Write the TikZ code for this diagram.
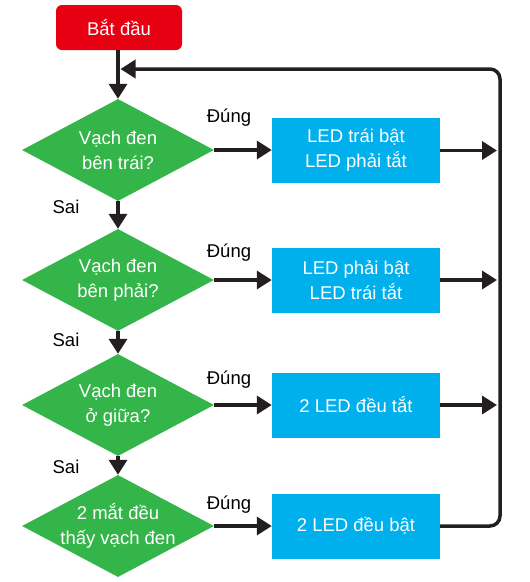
\documentclass[tikz,border=0pt]{standalone}
\usepackage{fontspec}
\setmainfont{Liberation Sans}
\usetikzlibrary{shapes.geometric,arrows.meta}
\definecolor{cred}{RGB}{230,0,18}
\definecolor{cgreen}{RGB}{52,181,74}
\definecolor{ccyan}{RGB}{0,176,236}
\definecolor{cdark}{RGB}{35,31,32}
\begin{document}
\begin{tikzpicture}[x=1pt,y=-1pt,
  every node/.style={font=\fontsize{18.5}{25}\selectfont},
  startbox/.style={rectangle,rounded corners=6pt,fill=cred,text=white,minimum width=126pt,minimum height=45pt,inner sep=0pt},
  dia/.style={diamond,fill=cgreen,minimum width=192pt,minimum height=102pt,inner sep=0pt},
  dtext/.style={text=white,align=center,inner sep=0pt},
  actbox/.style={rectangle,fill=ccyan,text=white,align=center,minimum width=168pt,minimum height=65pt,inner sep=0pt},
  lbl/.style={text=black,inner sep=0pt},
  conn/.style={draw=cdark,line width=3.5pt,-{Triangle[length=15pt,width=18pt]}},
  plain/.style={draw=cdark,line width=3.5pt}]
\useasboundingbox (0,0) rectangle (530,582);

\node[startbox] (start) at (119,27.5) {Bắt đầu};

\node[dia] (d1) at (118,150) {};
\node[dtext] (t1) at (d1) {Vạch đen\\bên trái?};
\node[dia] (d2) at (118,280) {};
\node[dtext] (t2) at (d2) {Vạch đen\\bên phải?};
\node[dia] (d3) at (118,405) {};
\node[dtext] (t3) at (d3) {Vạch đen\\ở giữa?};
\node[dia] (d4) at (118,526) {};
\node[dtext] (t4) at (d4) {2 mắt đều\\thấy vạch đen};

\node[actbox] (b1) at (356,150.5) {LED trái bật\\LED phải tắt};
\node[actbox] (b2) at (356,280) {LED phải bật\\LED trái tắt};
\node[actbox] (b3) at (356,405) {2 LED đều tắt};
\node[actbox] (b4) at (356,526) {2 LED đều bật};

\node[lbl] (y1) at (229,118) {Đúng};
\node[lbl] (y2) at (229,253) {Đúng};
\node[lbl] (y3) at (229,380) {Đúng};
\node[lbl] (y4) at (229,505) {Đúng};
\node[lbl] (n1) at (66,207) {Sai};
\node[lbl] (n2) at (66,340) {Sai};
\node[lbl] (n3) at (66,467) {Sai};

\coordinate (fb) at (120.5,69);
\coordinate (c1) at (497,150.5);
\coordinate (c2) at (497,280);
\coordinate (c3) at (497,405);
\coordinate (rb) at (500,526);
\coordinate (rt) at (500,69);

\draw[conn] (start.south -| d1.north) -- (d1.north);
\draw[conn] (d1.south) -- (d2.north);
\draw[conn] (d2.south) -- (d3.north);
\draw[conn] (d3.south) -- (d4.north);

\draw[conn] (d1.east) -- (d1.east -| b1.west);
\draw[conn] (d2.east) -- (b2.west);
\draw[conn] (d3.east) -- (b3.west);
\draw[conn] (d4.east) -- (b4.west);

\draw[conn] (b1.east) -- (c1);
\draw[conn] (b2.east) -- (c2);
\draw[conn] (b3.east) -- (c3);

\draw[conn,rounded corners=10pt] (b4.east) -- (rb) -- (rt) -- (fb);
\end{tikzpicture}
\end{document}
